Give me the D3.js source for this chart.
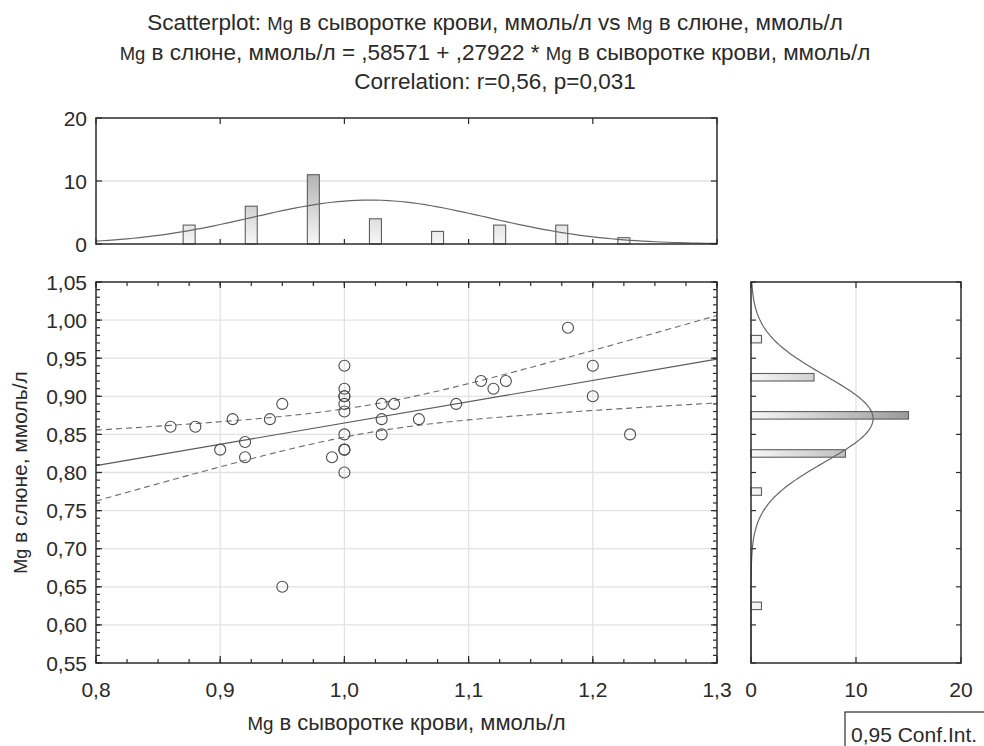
<!DOCTYPE html>
<html>
<head>
<meta charset="utf-8">
<script src="https://cdn.jsdelivr.net/npm/d3@7"></script>
<style>
  html, body { margin: 0; padding: 0; background: #fff; }
  svg { display: block; font-family: "Liberation Sans", Arial, sans-serif; }
</style>
</head>
<body>
<svg id="chart" width="984" height="746"></svg>
<script>
// ---------------- data ----------------
const serumMg = [0.86, 0.88, 0.90, 0.91, 0.92, 0.92, 0.94, 0.95, 0.95, 0.99,
  1.00, 1.00, 1.00, 1.00, 1.00, 1.00, 1.00, 1.00, 1.00, 1.00,
  1.03, 1.03, 1.03, 1.04, 1.06, 1.09, 1.11, 1.12, 1.13, 1.18, 1.20, 1.20, 1.23];
const salivaMg = [0.86, 0.86, 0.83, 0.87, 0.84, 0.82, 0.87, 0.89, 0.65, 0.82,
  0.94, 0.91, 0.90, 0.90, 0.89, 0.88, 0.85, 0.83, 0.83, 0.80,
  0.89, 0.87, 0.85, 0.89, 0.87, 0.89, 0.92, 0.91, 0.92, 0.99, 0.94, 0.90, 0.85];

const xBinCenters = [0.875, 0.925, 0.975, 1.025, 1.075, 1.125, 1.175, 1.225];
const xBinCounts  = [3, 6, 11, 4, 2, 3, 3, 1];
const yBinCenters = [0.975, 0.925, 0.875, 0.825, 0.775, 0.625];
const yBinCounts  = [1, 6, 15, 9, 1, 1];
const binWidth = 0.05;

const fitIntercept = 0.58571;
const fitSlope = 0.27922;

const xTicks = [0.8, 0.9, 1.0, 1.1, 1.2, 1.3];
const yTicks = [0.55, 0.60, 0.65, 0.70, 0.75, 0.80, 0.85, 0.90, 0.95, 1.00, 1.05];
const countTicks = [0, 10, 20];

const titleLines = [
  [["Scatterplot: ", 1], ["Mg", 0.82], [" в сыворотке крови, ммоль/л vs  ", 1], ["Mg", 0.82], [" в слюне, ммоль/л", 1]],
  [["Mg", 0.82], [" в слюне, ммоль/л = ,58571 + ,27922 * ", 1], ["Mg", 0.82], [" в сыворотке крови, ммоль/л", 1]],
  [["Correlation: r=0,56, p=0,031", 1]]
];
const xLabel = [["Mg", 0.85], [" в сыворотке крови, ммоль/л", 1]];
const yLabel = [["Mg", 0.85], [" в слюне, ммоль/л", 1]];
const legendText = "0,95 Conf.Int.";

// ---------------- layout ----------------
const svg = d3.select("#chart");
const M = { l: 96, r: 717, t: 282, b: 663 };
const TH = { t: 118, b: 244 };
const RH = { l: 751, r: 961 };
const FS = 21;
const TFS = 22.5;
const textColor = "#2a2a2a";
const frameColor = "#2b2b2b";
const gridColor = "#e2e2e2";
const fmt2 = d => d.toFixed(2).replace(".", ",");
const fmt1 = d => d.toFixed(1).replace(".", ",");

const x = d3.scaleLinear().domain([0.8, 1.3]).range([M.l, M.r]);
const y = d3.scaleLinear().domain([0.55, 1.05]).range([M.b, M.t]);
const cTop = d3.scaleLinear().domain([0, 20]).range([TH.b, TH.t]);
const cRight = d3.scaleLinear().domain([0, 20]).range([RH.l, RH.r]);

// gradients
const defs = svg.append("defs");
const gV = defs.append("linearGradient").attr("id", "gV").attr("gradientUnits", "userSpaceOnUse")
  .attr("x1", 0).attr("x2", 0).attr("y1", cTop(0)).attr("y2", cTop(20));
gV.append("stop").attr("offset", 0).attr("stop-color", "#f7f7f7");
gV.append("stop").attr("offset", 1).attr("stop-color", "#7c7c7c");
const gH = defs.append("linearGradient").attr("id", "gH").attr("gradientUnits", "userSpaceOnUse")
  .attr("x1", cRight(0)).attr("x2", cRight(20)).attr("y1", 0).attr("y2", 0);
gH.append("stop").attr("offset", 0).attr("stop-color", "#f7f7f7");
gH.append("stop").attr("offset", 1).attr("stop-color", "#7c7c7c");

function richText(g, parts, size) {
  parts.forEach(([t, s]) => g.append("tspan").attr("font-size", size * s).text(t));
}

// ---------------- titles ----------------
titleLines.forEach((parts, i) => {
  const t = svg.append("text").attr("x", 495).attr("y", 30 + i * 29.5)
    .attr("text-anchor", "middle").attr("fill", textColor);
  richText(t, parts, TFS);
});

// ---------------- stats ----------------
const n = serumMg.length;
const mx = d3.mean(serumMg), my = d3.mean(salivaMg);
const sx = d3.deviation(serumMg), sy = d3.deviation(salivaMg);
const sxx = d3.sum(serumMg, v => (v - mx) ** 2);
const resid = serumMg.map((v, i) => salivaMg[i] - (fitIntercept + fitSlope * v));
const se = Math.sqrt(d3.sum(resid, r => r * r) / (n - 2));
const tCrit = 2.0395;
const pdf = (v, m, s) => Math.exp(-0.5 * ((v - m) / s) ** 2) / (s * Math.sqrt(2 * Math.PI));

function axisTicks(g, scale, values, orient, pos, len, color) {
  values.forEach(v => {
    const p = scale(v);
    let l;
    if (orient === "bottom") l = [p, pos, p, pos - len];
    else if (orient === "top") l = [p, pos, p, pos + len];
    else if (orient === "left") l = [pos, p, pos + len, p];
    else l = [pos, p, pos - len, p];
    g.append("line").attr("x1", l[0]).attr("y1", l[1]).attr("x2", l[2]).attr("y2", l[3])
      .attr("stroke", color || frameColor).attr("stroke-width", 1.2);
  });
}

// ---------------- main plot ----------------
const mainG = svg.append("g");
mainG.selectAll(".gx").data(xTicks.slice(1, -1)).join("line")
  .attr("x1", d => x(d)).attr("x2", d => x(d)).attr("y1", M.t).attr("y2", M.b)
  .attr("stroke", gridColor).attr("stroke-width", 1.3);
mainG.selectAll(".gy").data(yTicks.slice(1, -1)).join("line")
  .attr("y1", d => y(d)).attr("y2", d => y(d)).attr("x1", M.l).attr("x2", M.r)
  .attr("stroke", gridColor).attr("stroke-width", 1.3);

const xs = d3.range(0.8, 1.3001, 0.01);
const band = (sign) => xs.map(v => [v, fitIntercept + fitSlope * v + sign * tCrit * se * Math.sqrt(1 / n + (v - mx) ** 2 / sxx)]);
const lineGen = d3.line().x(d => x(d[0])).y(d => y(d[1]));
[1, -1].forEach(s => mainG.append("path").attr("d", lineGen(band(s)))
  .attr("fill", "none").attr("stroke", "#6a6a6a").attr("stroke-width", 1.1).attr("stroke-dasharray", "6,4"));
mainG.append("path").attr("d", lineGen([[0.8, fitIntercept + fitSlope * 0.8], [1.3, fitIntercept + fitSlope * 1.3]]))
  .attr("fill", "none").attr("stroke", "#5a5a5a").attr("stroke-width", 1.2);

mainG.selectAll(".pt").data(serumMg.map((v, i) => [v, salivaMg[i]])).join("circle")
  .attr("cx", d => x(d[0])).attr("cy", d => y(d[1])).attr("r", 5.5)
  .attr("fill", "none").attr("stroke", "#4a4a4a").attr("stroke-width", 1.1);

const xMinor = d3.range(0, 21).map(i => 0.8 + i * 0.025);
const yMinor = d3.range(0, 51).map(i => 0.55 + i * 0.01);
axisTicks(mainG, x, xMinor, "bottom", M.b, 4);
axisTicks(mainG, x, xMinor, "top", M.t, 4);
axisTicks(mainG, x, xTicks, "bottom", M.b, 7);
axisTicks(mainG, x, xTicks, "top", M.t, 6);
axisTicks(mainG, y, yMinor, "left", M.l, 4);
axisTicks(mainG, y, yMinor, "right", M.r, 4);
axisTicks(mainG, y, yTicks, "left", M.l, 6);
axisTicks(mainG, y, yTicks, "right", M.r, 6);
mainG.append("rect").attr("x", M.l).attr("y", M.t).attr("width", M.r - M.l).attr("height", M.b - M.t)
  .attr("fill", "none").attr("stroke", frameColor).attr("stroke-width", 1.5);

mainG.selectAll(".xl").data(xTicks).join("text")
  .attr("x", d => x(d)).attr("y", 697).attr("text-anchor", "middle").attr("font-size", FS).attr("fill", textColor)
  .text(fmt1);
mainG.selectAll(".yl").data(yTicks).join("text")
  .attr("x", 87).attr("y", d => y(d) + 7.5).attr("text-anchor", "end").attr("font-size", FS).attr("fill", textColor)
  .text(fmt2);

const xl = svg.append("text").attr("x", (M.l + M.r) / 2).attr("y", 730).attr("text-anchor", "middle").attr("fill", textColor);
richText(xl, xLabel, 22);
const yl = svg.append("text").attr("transform", `translate(27,${(M.t + M.b) / 2}) rotate(-90)`)
  .attr("text-anchor", "middle").attr("fill", textColor);
richText(yl, yLabel, FS);

// ---------------- top histogram ----------------
const topG = svg.append("g");
topG.append("line").attr("x1", M.l).attr("x2", M.r).attr("y1", cTop(10)).attr("y2", cTop(10))
  .attr("stroke", gridColor).attr("stroke-width", 1.3);
const barW = 12;
topG.selectAll(".b").data(xBinCenters.map((c, i) => [c, xBinCounts[i]])).join("rect")
  .attr("x", d => x(d[0]) - barW / 2).attr("width", barW)
  .attr("y", d => cTop(d[1])).attr("height", d => cTop(0) - cTop(d[1]))
  .attr("fill", "url(#gV)").attr("stroke", "#5e5e5e").attr("stroke-width", 1.1);
const curveX = d3.range(0.8, 1.3001, 0.005);
topG.append("path").attr("d", d3.line().x(v => x(v)).y(v => cTop(n * binWidth * pdf(v, mx, sx)))(curveX))
  .attr("fill", "none").attr("stroke", "#666").attr("stroke-width", 1.2);
axisTicks(topG, x, xTicks, "top", TH.t, 6);
axisTicks(topG, x, xTicks, "bottom", TH.b, 5);
axisTicks(topG, cTop, countTicks, "left", M.l, 6);
axisTicks(topG, cTop, countTicks, "right", M.r, 6);
topG.append("rect").attr("x", M.l).attr("y", TH.t).attr("width", M.r - M.l).attr("height", TH.b - TH.t)
  .attr("fill", "none").attr("stroke", frameColor).attr("stroke-width", 1.5);
topG.selectAll(".cl").data(countTicks).join("text")
  .attr("x", 87).attr("y", d => cTop(d) + 7.5).attr("text-anchor", "end").attr("font-size", FS).attr("fill", textColor)
  .text(d => d);

// ---------------- right histogram ----------------
const rightG = svg.append("g");
rightG.append("line").attr("x1", cRight(10)).attr("x2", cRight(10)).attr("y1", M.t).attr("y2", M.b)
  .attr("stroke", gridColor).attr("stroke-width", 1.3);
const barH = 7.5;
rightG.selectAll(".b").data(yBinCenters.map((c, i) => [c, yBinCounts[i]])).join("rect")
  .attr("y", d => y(d[0]) - barH / 2).attr("height", barH)
  .attr("x", cRight(0)).attr("width", d => cRight(d[1]) - cRight(0))
  .attr("fill", "url(#gH)").attr("stroke", "#5e5e5e").attr("stroke-width", 1.1);
const curveY = d3.range(0.55, 1.0501, 0.0025);
rightG.append("path").attr("d", d3.line().x(v => cRight(n * binWidth * pdf(v, my, sy))).y(v => y(v))(curveY))
  .attr("fill", "none").attr("stroke", "#666").attr("stroke-width", 1.2);
axisTicks(rightG, y, yTicks, "left", RH.l, 5);
axisTicks(rightG, y, yTicks, "right", RH.r, 5);
axisTicks(rightG, cRight, countTicks, "top", M.t, 6);
axisTicks(rightG, cRight, countTicks, "bottom", M.b, 6);
rightG.append("rect").attr("x", RH.l).attr("y", M.t).attr("width", RH.r - RH.l).attr("height", M.b - M.t)
  .attr("fill", "none").attr("stroke", frameColor).attr("stroke-width", 1.5);
rightG.selectAll(".rl").data(countTicks).join("text")
  .attr("x", d => cRight(d)).attr("y", 697).attr("text-anchor", "middle").attr("font-size", FS).attr("fill", textColor)
  .text(d => d);

// ---------------- legend ----------------
svg.append("rect").attr("x", 845).attr("y", 712).attr("width", 160).attr("height", 50)
  .attr("fill", "#fff").attr("stroke", frameColor).attr("stroke-width", 1.2);
svg.append("text").attr("x", 851).attr("y", 742).attr("font-size", FS).attr("fill", textColor).text(legendText);
</script>
</body>
</html>
